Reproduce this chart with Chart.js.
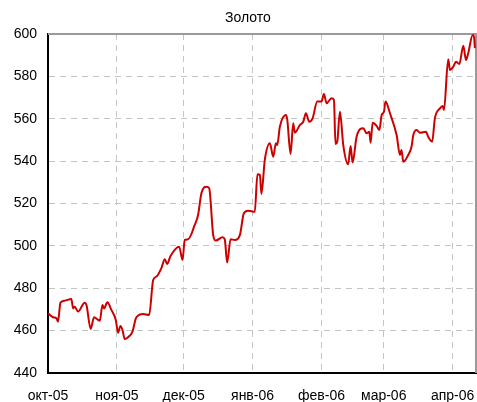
<!DOCTYPE html>
<html>
<head>
<meta charset="utf-8">
<script src="https://cdn.jsdelivr.net/npm/chart.js@4"></script>
<style>
  html, body { margin: 0; padding: 0; background: #fff; }
  #wrap { width: 477px; height: 402px; position: relative; }
</style>
</head>
<body>
<div id="wrap"><canvas id="goldChart"></canvas></div>
<script>
'use strict';

const TITLE = 'Золото';
// month ticks: label + day offset from 1 Oct 2005
const monthLabels = ['окт-05', 'ноя-05', 'дек-05', 'янв-06', 'фев-06', 'мар-06', 'апр-06'];
const monthDays = [0, 31, 61, 92, 123, 151, 182];

// price points (day offset, USD)
const days = [
  0.0, 2.3, 3.8, 4.5, 5.6, 7.5, 10.5, 11.3, 12.0, 13.5, 16.5, 17.3, 19.2, 20.7, 23.3, 24.5,
  25.2, 26.7, 28.5, 30.5, 31.5, 32.6, 33.5, 34.5, 36.0, 38.0, 39.5, 41.0, 42.8, 45.5, 47.3,
  48.8, 51.0, 52.5, 53.6, 55.1, 59.0, 60.5, 61.5, 63.0, 66.0, 67.5, 69.0, 71.3, 72.5, 74.3,
  75.5, 78.5, 79.5, 80.6, 82.1, 84.0, 86.3, 88.1, 90.0, 93.0, 94.2, 95.3, 96.0, 97.5, 99.8,
  101.3, 102.5, 103.1, 104.3, 107.0, 107.6, 109.1, 110.3, 111.0, 113.3, 114.8, 116.0, 117.5,
  119.0, 121.1, 123.0, 124.1, 125.3, 127.5, 128.6, 129.3, 130.1, 131.3, 132.8, 135.0, 136.1,
  137.0, 138.8, 141.8, 143.3, 144.5, 145.1, 146.0, 147.8, 149.0, 150.1, 151.1, 151.8, 153.8,
  156.8, 158.3, 159.0, 159.8, 162.0, 163.5, 164.3, 165.8, 167.3, 170.0, 171.0, 172.8, 174.0,
  176.3, 177.5, 178.1, 180.0, 180.8, 182.3, 183.5, 185.0, 186.8, 188.0, 189.0, 191.0, 191.6, 192.0
];
const prices = [
  468.2, 466.3, 465.8, 464.2, 473.2, 474.1, 474.9, 470.5, 471.3, 469.0, 473.2, 472.1, 460.8, 466.3, 464.7, 472.1,
  470.5, 473.4, 469.8, 465.0, 459.0, 462.2, 460.3, 456.0, 456.9, 459.5, 465.8, 467.4, 467.9, 467.4, 483.9,
  485.5, 489.5, 493.7, 491.5, 495.2, 499.6, 493.3, 502.8, 503.1, 509.9, 514.6, 524.8, 527.9, 527.2, 505.1,
  502.5, 504.1, 503.1, 492.1, 503.1, 502.8, 505.1, 515.4, 516.6, 516.1, 533.8, 533.5, 524.5, 540.5, 548.4,
  542.1, 548.4, 547.6, 556.3, 561.8, 559.7, 543.4, 557.9, 553.4, 557.1, 558.6, 562.6, 558.6,
  560.2, 568.1, 568.1, 571.7, 567.3, 569.7, 568.9, 548.1, 549.2, 563.3, 547.6, 538.5, 547.1,
  539.3, 551.5, 555.5, 553.1, 553.9, 548.7, 558.1, 556.6, 554.7, 561.8, 563.3, 568.1, 562.6,
  552.3, 542.9, 545.3, 539.7, 542.9, 546.8, 552.3, 554.7, 553.4, 553.9, 551.5, 549.2, 560.2,
  564.9, 566.0, 564.1, 588.1, 583.0, 584.6, 586.9, 585.8, 594.5, 587.7, 590.9, 599.5, 598.7, 593.3
];

const Y_MIN = 440, Y_MAX = 600, Y_STEP = 20;
const X_MAX = 192.5;

const FONT = { family: '"Liberation Sans", Arial, sans-serif', size: 14 };
const GRID = '#c4c4c4';

// title + grey top/right frame
const framePlugin = {
  id: 'frame',
  beforeDatasetsDraw(chart) {
    const { ctx, chartArea: a } = chart;
    ctx.save();
    ctx.strokeStyle = '#9a9a9a';
    ctx.lineWidth = 2;
    ctx.beginPath();
    ctx.moveTo(a.left, a.top);
    ctx.lineTo(a.right, a.top);
    ctx.lineTo(a.right, a.bottom);
    ctx.stroke();
    ctx.restore();
  },
  afterDraw(chart) {
    const { ctx } = chart;
    ctx.save();
    ctx.fillStyle = '#000';
    ctx.font = `14px ${FONT.family}`;
    ctx.textAlign = 'center';
    ctx.textBaseline = 'middle';
    ctx.fillText(TITLE, 248, 18);
    ctx.restore();
  }
};

new Chart(document.getElementById('goldChart'), {
  type: 'line',
  data: {
    datasets: [{
      data: days.map((d, i) => ({ x: d, y: prices[i] })),
      borderColor: '#cc0000',
      borderWidth: 2,
      pointRadius: 0,
      cubicInterpolationMode: 'monotone',
      fill: false
    }]
  },
  options: {
    responsive: true,
    maintainAspectRatio: false,
    animation: false,
    devicePixelRatio: 1,
    layout: { padding: { top: 34, right: 1, left: 0, bottom: 0 } },
    plugins: { legend: { display: false }, tooltip: { enabled: false }, title: { display: false } },
    scales: {
      x: {
        type: 'linear',
        min: 0,
        max: X_MAX,
        afterBuildTicks: (s) => { s.ticks = monthDays.map(v => ({ value: v })); },
        afterFit: (s) => { s.height = 29; s.paddingLeft = 0; s.paddingRight = 0; },
        ticks: {
          autoSkip: false,
          maxRotation: 0,
          padding: 15,
          color: '#000',
          font: FONT,
          callback: (v) => monthLabels[monthDays.indexOf(v)] ?? ''
        },
        grid: { color: GRID, lineWidth: 1, drawTicks: false },
        border: { display: true, color: '#000', width: 2, dash: [6, 5] }
      },
      y: {
        min: Y_MIN,
        max: Y_MAX,
        afterFit: (s) => { s.width = 48; s.paddingTop = 0; s.paddingBottom = 0; },
        ticks: { stepSize: Y_STEP, padding: 11, color: '#000', font: FONT },
        grid: { color: GRID, lineWidth: 1, drawTicks: false },
        border: { display: true, color: '#000', width: 2, dash: [6, 5] }
      }
    }
  },
  plugins: [framePlugin]
});
</script>
</body>
</html>
